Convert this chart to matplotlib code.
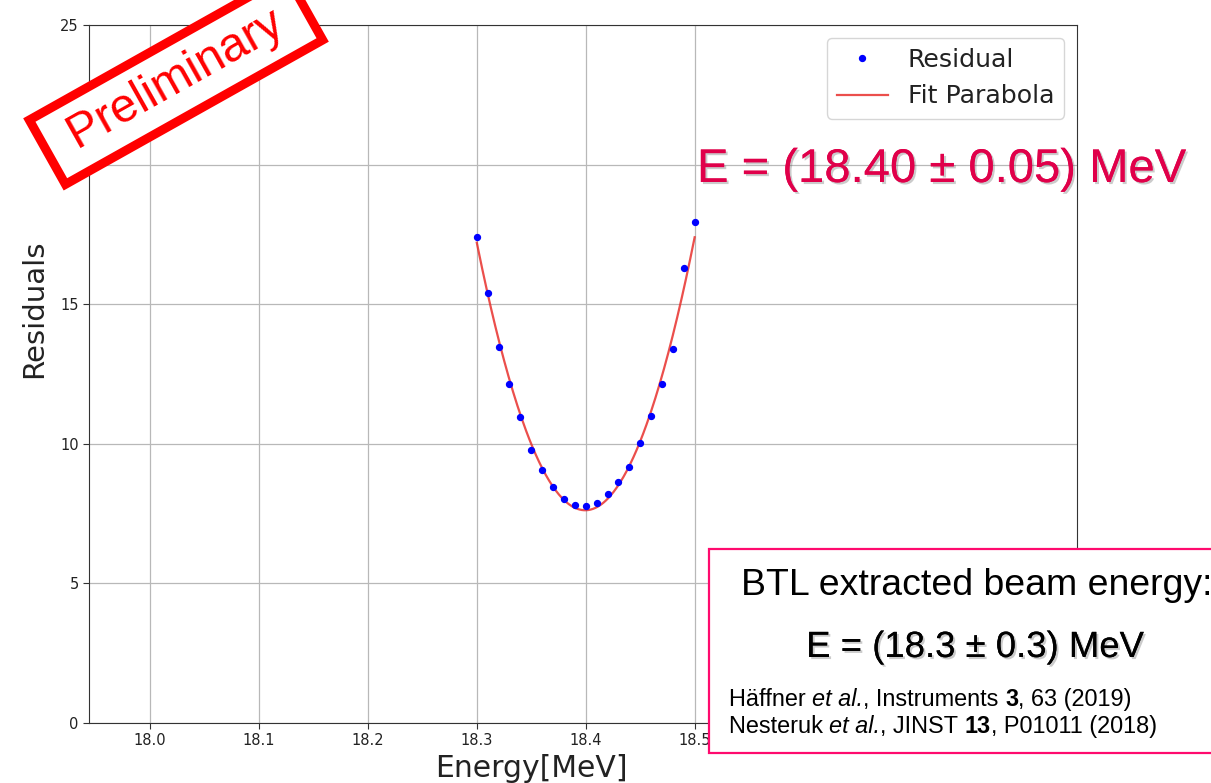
import matplotlib
matplotlib.use("Agg")
import matplotlib.pyplot as plt
import matplotlib.patheffects as pe
from matplotlib.patches import Rectangle
import numpy as np

# ─── Data ──────────────────────────────────────────────────────────────────
energy = [18.30, 18.31, 18.32, 18.33, 18.34, 18.35, 18.36, 18.37, 18.38, 18.39,
          18.40, 18.41, 18.42, 18.43, 18.44, 18.45, 18.46, 18.47, 18.48, 18.49,
          18.50]
residual = [17.40, 15.40, 13.46, 12.14, 10.95, 9.78, 9.06, 8.46, 8.02, 7.82,
            7.77, 7.87, 8.19, 8.63, 9.18, 10.02, 11.00, 12.14, 13.38, 16.28,
            17.93]

# fitted parabola y = fit_min + fit_curv * (x - fit_x0)^2
fit_x0 = 18.3995
fit_min = 7.62
fit_curv = 968.0
fit_range = (18.30, 18.50)

x_ticks = [18.0, 18.1, 18.2, 18.3, 18.4, 18.5]
y_ticks = [0, 5, 10, 15, 20, 25]

# reference lines: (text, style) pieces
ref_lines = [
    [("Häffner ", "normal"), ("et al.", "italic"), (", Instruments ", "normal"),
     ("3", "bold"), (", 63 (2019)", "normal")],
    [("Nesteruk ", "normal"), ("et al.", "italic"), (", JINST ", "normal"),
     ("13", "bold"), (", P01011 (2018)", "normal")],
]

W, H = 1211, 783


def fx(px):
    return px / W


def fy(py):
    return 1 - py / H


sans = "Liberation Sans"

fig = plt.figure(figsize=(W / 100, H / 100), dpi=100)
ax = fig.add_axes([fx(89), fy(723), fx(1077) - fx(89), fy(25) - fy(723)])

xfit = np.linspace(fit_range[0], fit_range[1], 200)
yfit = fit_min + fit_curv * (xfit - fit_x0) ** 2

ax.plot(energy, residual, ".", color="blue", markersize=8.5, label="Residual", zorder=3)
ax.plot(xfit, yfit, "-", color="#e8302c", alpha=0.85, linewidth=1.6, label="Fit Parabola", zorder=2)

ax.set_xlim(17.944, 18.851)
ax.set_ylim(0, 25)
ax.set_xticks(x_ticks)
ax.set_yticks(y_ticks)
ax.tick_params(labelsize=10.5, length=4, colors="#333333", labelcolor="#222222")
for s in ax.spines.values():
    s.set_color("#333333")
ax.grid(True, color="#b8b8b8", linewidth=0.9)
ax.set_axisbelow(True)
ax.set_xlabel("Energy[MeV]", fontsize=21.5, color="#222222")
ax.set_ylabel("Residuals", fontsize=21, color="#222222")
ax.xaxis.set_label_coords(0.448, -0.044)
ax.yaxis.set_label_coords(-0.0415, 0.593)

leg = ax.legend(loc="upper right", fontsize=18.2, handlelength=2.0,
                framealpha=0.8, edgecolor="#cccccc")
for t in leg.get_texts():
    t.set_color("#222222")

# ─── Overlay annotations ───────────────────────────────────────────────────
shadow = [pe.withSimplePatchShadow(offset=(1.5, -1.5), shadow_rgbFace="#555555", alpha=0.3),
          pe.Normal()]

fig.text(fx(176), fy(80), " Preliminary ", family=sans, fontsize=34.5, color="red",
         rotation=29.3, ha="center", va="center", rotation_mode="anchor",
         bbox=dict(boxstyle="square,pad=0.3", facecolor="white", edgecolor="red",
                   linewidth=6.5), zorder=10)

fig.text(fx(697), fy(182), "E = (18.40 ± 0.05) MeV", family=sans, fontsize=34,
         color="#e0004a", ha="left", va="baseline", path_effects=shadow, zorder=10)

fig.add_artist(Rectangle((fx(709), fy(753)), fx(1215) - fx(709), fy(549) - fy(753),
                         transform=fig.transFigure, facecolor="white",
                         edgecolor="#ff0a6e", linewidth=1.6, zorder=5))

fig.text(fx(741), fy(595), "BTL extracted beam energy:", family=sans, fontsize=26.9,
         color="black", ha="left", va="baseline", zorder=10)
fig.text(fx(975), fy(657), "E = (18.3 ± 0.3) MeV", family=sans, fontsize=26.3,
         color="black", ha="center", va="baseline", path_effects=shadow, zorder=10)

renderer = fig.canvas.get_renderer()
for line, base in zip(ref_lines, [706, 733]):
    x = fx(729)
    for piece, style in line:
        t = fig.text(x, fy(base), piece, family=sans, fontsize=16.9, color="black",
                     ha="left", va="baseline", zorder=10,
                     style="italic" if style == "italic" else "normal",
                     weight="bold" if style == "bold" else "normal")
        ext = t.get_window_extent(renderer)
        x = fig.transFigure.inverted().transform((ext.x1, ext.y0))[0]

fig.savefig("out.png", dpi=100)
